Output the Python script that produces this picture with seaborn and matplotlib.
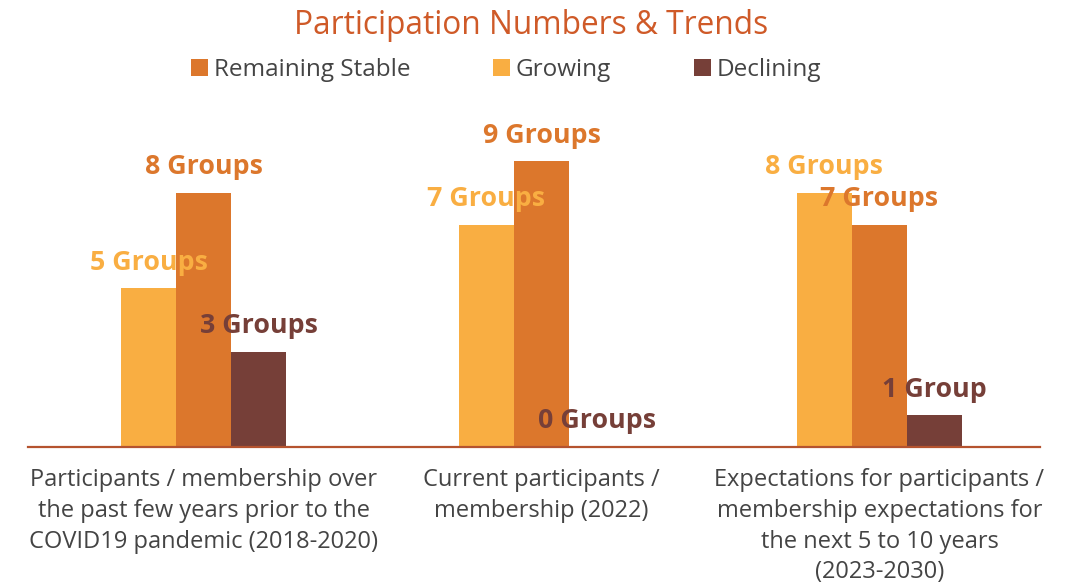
import matplotlib
matplotlib.use("Agg")
import matplotlib.pyplot as plt
from matplotlib.patches import Patch
import pandas as pd
import seaborn as sns

# Chart data
categories = [
    "Participants / membership over\nthe past few years prior to the\nCOVID19 pandemic (2018-2020)",
    "Current participants /\nmembership (2022)",
    "Expectations for participants /\nmembership expectations for\nthe next 5 to 10 years\n(2023-2030)",
]
growing = [5, 7, 8]
stable = [8, 9, 7]
declining = [3, 0, 1]

series_names = ["Growing", "Remaining Stable", "Declining"]
series_values = [growing, stable, declining]
series_colors = ["#F9AE42", "#DC772C", "#763F38"]
legend_order = ["Remaining Stable", "Growing", "Declining"]

rows = []
for name, vals in zip(series_names, series_values):
    for cat, v in zip(categories, vals):
        rows.append({"category": cat, "trend": name, "count": v})
df = pd.DataFrame(rows)

sns.set_theme(style="white")
plt.rcParams["font.family"] = ["Open Sans", "DejaVu Sans"]

fig = plt.figure(figsize=(10.72, 5.86), dpi=100)
ax = fig.add_axes([28 / 1072, 139 / 586, 1012 / 1072, 317.5 / 586])

palette = dict(zip(series_names, series_colors))
sns.barplot(
    data=df, x="category", y="count", hue="trend",
    order=categories, hue_order=series_names, palette=palette,
    width=0.49, saturation=1, legend=False, linewidth=0, ax=ax, zorder=2,
)

# Value labels above each bar, in the series colour
for container, name, color in zip(ax.containers, series_names, series_colors):
    vals = df[df["trend"] == name]["count"].tolist()
    labels = [f"{v} Group" if v == 1 else f"{v} Groups" for v in vals]
    ax.bar_label(container, labels=labels, padding=9, color=color,
                 fontsize=19.3, fontweight="bold", zorder=5)

ax.set_ylim(0, 10)
ax.set_xlim(-0.52, 2.475)
ax.set_xlabel("")
ax.set_ylabel("")
ax.set_yticks([])
ax.tick_params(axis="x", length=0, pad=15, labelsize=17, labelcolor="#444444")
for lbl in ax.get_xticklabels():
    lbl.set_verticalalignment("top")
    lbl.set_linespacing(1.38)

for side in ["top", "right", "left"]:
    ax.spines[side].set_visible(False)
ax.spines["bottom"].set_color("#B5532F")
ax.spines["bottom"].set_linewidth(1.6)
ax.spines["bottom"].set_zorder(3)

fig.text(531 / 1072, 1 - 25 / 586, "Participation Numbers & Trends",
         ha="center", va="center", fontsize=22.8, color="#CF5A28")

handles = [Patch(facecolor=palette[n], edgecolor="none") for n in legend_order]
fig.legend(handles, legend_order, loc="center", bbox_to_anchor=(506 / 1072, 1 - 70 / 586),
           ncol=3, frameon=False, fontsize=17.5, handlelength=0.7, handleheight=0.7,
           handletextpad=0.25, columnspacing=3.4, labelcolor="#444444")

fig.savefig("out.png", dpi=100)
